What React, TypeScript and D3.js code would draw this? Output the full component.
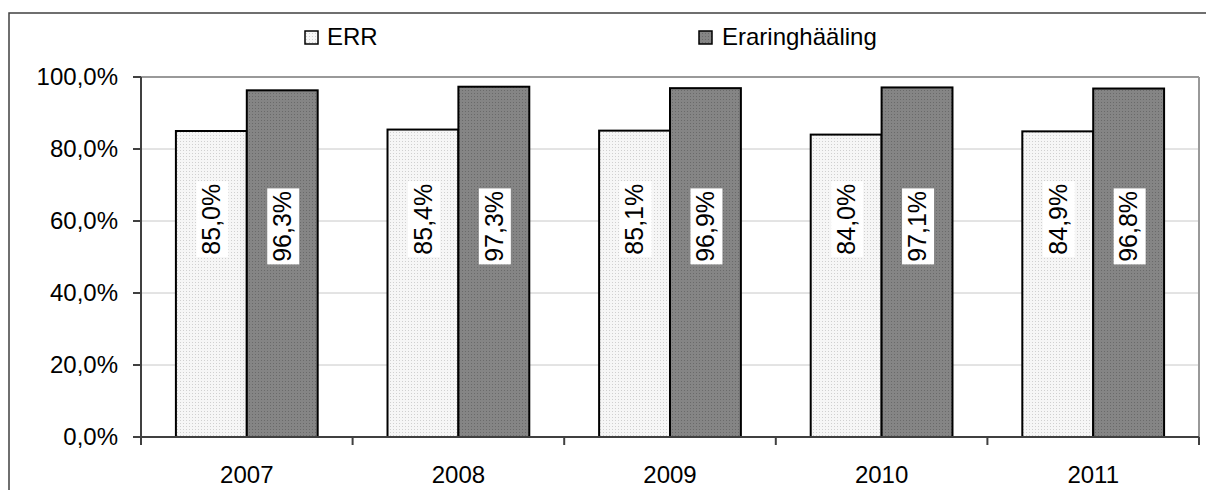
import React from "react";
import * as d3 from "d3";

const years = ["2007", "2008", "2009", "2010", "2011"];
const seriesNames = ["ERR", "Eraringhääling"];
const errValues = [85.0, 85.4, 85.1, 84.0, 84.9];
const eraringValues = [96.3, 97.3, 96.9, 97.1, 96.8];
const yTicks = [0, 20, 40, 60, 80, 100];

const W = 1206;
const H = 490;
const plot = { left: 141, right: 1199, top: 77, bottom: 437 };
const font = "Arial, 'Liberation Sans', sans-serif";

const fmt = (v: number) => v.toFixed(1).replace(".", ",") + "%";

export default function App() {
  const x = d3
    .scaleBand<string>()
    .domain(years)
    .range([plot.left, plot.right])
    .paddingInner(0.33)
    .paddingOuter(0.165);
  const xs = d3.scaleBand<string>().domain(seriesNames).range([0, x.bandwidth()]);
  const y = d3.scaleLinear().domain([0, 100]).range([plot.bottom, plot.top]);

  const step = x.step();
  const boundaries = d3.range(years.length + 1).map((i) => plot.left + i * step);

  const series = [
    { name: seriesNames[0], values: errValues, fill: "url(#dotsLight)", labelAt: 60.5 },
    { name: seriesNames[1], values: eraringValues, fill: "url(#dotsDark)", labelAt: 58.5 },
  ];

  return (
    <svg width={W} height={H} style={{ position: "absolute", left: 0, top: 0 }}>
      <defs>
        <pattern id="dotsLight" width="3" height="3" patternUnits="userSpaceOnUse">
          <rect width="3" height="3" fill="#f6f6f6" />
          <rect width="1" height="1" fill="#d0d0d0" />
        </pattern>
        <pattern id="dotsDark" width="3" height="3" patternUnits="userSpaceOnUse">
          <rect width="3" height="3" fill="#858585" />
          <rect width="1" height="1" fill="#6a6a6a" />
        </pattern>
      </defs>
      <rect x={0} y={0} width={W} height={H} fill="#fff" />
      {/* outer frame */}
      <rect x={9} y={13} width={W + 20} height={H + 20} fill="none" stroke="#404040" strokeWidth={1.5} />

      {/* gridlines */}
      {yTicks.map((t) => (
        <line key={t} x1={plot.left} x2={plot.right} y1={y(t)} y2={y(t)} stroke={t === 100 ? "#999" : "#c8c8c8"} strokeWidth={t === 100 ? 2 : 1} />
      ))}
      <line x1={plot.right} x2={plot.right} y1={plot.top} y2={plot.bottom} stroke="#999" strokeWidth={2} />

      {/* bars */}
      {series.map((s) =>
        years.map((yr, i) => {
          const bx = (x(yr) ?? 0) + (xs(s.name) ?? 0);
          const by = y(s.values[i]);
          return (
            <rect key={s.name + yr} x={bx} y={by} width={xs.bandwidth()} height={plot.bottom - by} fill={s.fill} stroke="#000" strokeWidth={2} />
          );
        })
      )}

      {/* data labels */}
      {series.map((s) =>
        years.map((yr, i) => {
          const cx = (x(yr) ?? 0) + (xs(s.name) ?? 0) + xs.bandwidth() / 2;
          const cy = y(s.labelAt);
          return (
            <g key={"l" + s.name + yr} transform={`translate(${cx},${cy}) rotate(-90)`}>
              <rect x={-38} y={-15} width={76} height={32} fill="#fff" />
              <text x={0} y={0} dy="0.35em" textAnchor="middle" fontFamily={font} fontSize={25} fill="#000">
                {fmt(s.values[i])}
              </text>
            </g>
          );
        })
      )}

      {/* axes */}
      <line x1={plot.left} x2={plot.left} y1={plot.top} y2={plot.bottom} stroke="#404040" strokeWidth={2} />
      <line x1={plot.left} x2={plot.right} y1={plot.bottom} y2={plot.bottom} stroke="#404040" strokeWidth={2} />
      {yTicks.map((t) => (
        <g key={"yt" + t}>
          <line x1={133} x2={plot.left} y1={y(t)} y2={y(t)} stroke="#404040" strokeWidth={2} />
          <text x={118} y={y(t)} dy="0.35em" textAnchor="end" fontFamily={font} fontSize={24} fill="#000">
            {fmt(t)}
          </text>
        </g>
      ))}
      {boundaries.map((bx, i) => (
        <line key={"xt" + i} x1={bx} x2={bx} y1={plot.bottom} y2={plot.bottom + 8} stroke="#404040" strokeWidth={2} />
      ))}
      {years.map((yr) => (
        <text key={"xl" + yr} x={(x(yr) ?? 0) + x.bandwidth() / 2} y={483} textAnchor="middle" fontFamily={font} fontSize={24} fill="#000">
          {yr}
        </text>
      ))}

      {/* legend */}
      <rect x={305} y={31} width={13} height={13} fill="url(#dotsLight)" stroke="#000" strokeWidth={1.5} />
      <text x={327} y={45} fontFamily={font} fontSize={24} fill="#000">{seriesNames[0]}</text>
      <rect x={699} y={31} width={13} height={13} fill="url(#dotsDark)" stroke="#000" strokeWidth={1.5} />
      <text x={722} y={45} fontFamily={font} fontSize={24} fill="#000">{seriesNames[1]}</text>
    </svg>
  );
}
